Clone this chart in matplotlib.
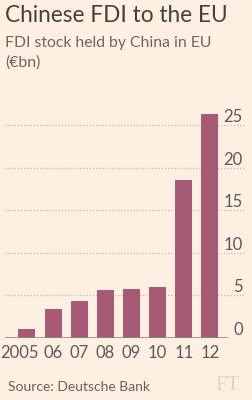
import matplotlib
matplotlib.use("Agg")
import matplotlib.pyplot as plt
from matplotlib.transforms import ScaledTranslation

years = ["2005", "06", "07", "08", "09", "10", "11", "12"]
values = [1.0, 3.4, 4.4, 5.6, 5.8, 6.0, 18.6, 26.3]
yticks = [0, 5, 10, 15, 20, 25]

BG = "#fdf0e2"
BAR = "#a65a76"
plt.rcParams['font.family'] = ['Lato', 'DejaVu Sans']

W, H = 253, 400
fig = plt.figure(figsize=(W / 100, H / 100), dpi=100, facecolor=BG)
ax = fig.add_axes([5 / W, (H - 338) / H, 240 / W, (338 - 104) / H])
ax.set_facecolor(BG)

x = list(range(len(years)))
ax.bar(x, values, width=0.65, color=BAR, zorder=3)
ax.set_xlim(-0.84, 8.34)
ax.set_ylim(0, 27.5)

for s in ax.spines.values():
    s.set_visible(False)
ax.axhline(0, xmin=0, xmax=(7.65 + 0.84) / (8.34 + 0.84), color="#8f8782", lw=1.2, zorder=4)

ax.set_yticks(yticks)
ax.yaxis.tick_right()
ax.yaxis.grid(True, linestyle=(0, (1, 1.5)), color="#c4b8b0", lw=0.9, zorder=1)
ax.tick_params(axis='y', length=0, pad=-1.5, labelsize=12, labelcolor="#5e5856")
for lab in ax.get_yticklabels():
    lab.set_horizontalalignment('right')
    lab.set_verticalalignment('bottom')

ax.set_xticks(x)
ax.set_xticklabels(years)
ax.tick_params(axis='x', length=0, pad=5, labelsize=12, labelcolor="#5e5856")
first = ax.get_xticklabels()[0]
first.set_transform(first.get_transform() + ScaledTranslation(-8 / 100, 0, fig.dpi_scale_trans))

fig.text(5 / W, 1 - 16 / H, "Chinese FDI to the EU", fontsize=16.3, color="#45403e", va='center', ha='left')
fig.text(5 / W, 1 - 43 / H, "FDI stock held by China in EU", fontsize=11.3, color="#6e6462", va='center', ha='left')
fig.text(5 / W, 1 - 63 / H, "(€bn)", fontsize=11.3, color="#6e6462", va='center', ha='left')
fig.text(8 / W, 1 - 387 / H, "Source: Deutsche Bank", fontsize=10, color="#66605e", va='center', ha='left')
fig.text(228 / W, 1 - 385 / H, "FT", fontsize=15, family=['Liberation Serif', 'DejaVu Serif'], color="#ddd4cb", va='center', ha='center')

fig.savefig("out.png", dpi=100, facecolor=BG)
